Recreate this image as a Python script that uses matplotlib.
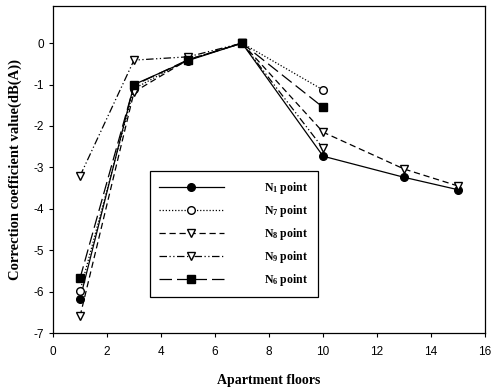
import matplotlib
matplotlib.use("Agg")
from matplotlib import pyplot as plt

# correction coefficient per measuring point, by apartment floor
floors_long = [1, 3, 5, 7, 10, 13, 15]
floors_short = [1, 3, 5, 7, 10]

n1_vals = [-6.18, -1.0, -0.42, 0.0, -2.73, -3.24, -3.54]
n7_vals = [-5.99, -1.1, -0.40, 0.0, -1.13]
n8_vals = [-6.6, -1.18, -0.40, 0.0, -2.15, -3.04, -3.45]
n9_vals = [-3.21, -0.41, -0.33, 0.0, -2.54]
n6_vals = [-5.68, -1.02, -0.40, 0.0, -1.55]

series = [
    (floors_long, n1_vals, "-", "o", "black", r"N$_1$ point"),
    (floors_short, n7_vals, (0, (1, 1.5)), "o", "white", r"N$_7$ point"),
    (floors_long, n8_vals, (0, (5, 3)), "v", "white", r"N$_8$ point"),
    (floors_short, n9_vals, (0, (6, 2, 1, 2, 1, 2)), "v", "white", r"N$_9$ point"),
    (floors_short, n6_vals, (0, (10, 4)), "s", "black", r"N$_6$ point"),
]

plt.rcParams["mathtext.fontset"] = "custom"
plt.rcParams["mathtext.rm"] = "Liberation Serif:bold"
plt.rcParams["mathtext.bf"] = "Liberation Serif:bold"
plt.rcParams["mathtext.default"] = "bf"
plt.rcParams["axes.unicode_minus"] = False

fig = plt.figure(figsize=(4.93, 3.92), dpi=100)
ax = fig.add_axes([0.1075, 0.1505, 0.8765, 0.8345])

for x, y, ls, marker, face, label in series:
    ax.plot(x, y, linestyle=ls, color="black", linewidth=0.9,
            marker=marker, markersize=5.5, markerfacecolor=face,
            markeredgecolor="black", markeredgewidth=1.0, label=label)

ax.set_xlim(0, 16)
ax.set_ylim(-7, 0.9)
ax.set_xticks(range(0, 17, 2))
ax.set_yticks(range(-7, 1))
ax.tick_params(direction="out", length=3, width=0.8, labelsize=8.5)
ax.tick_params(axis="x", pad=6)
for lbl in ax.get_xticklabels() + ax.get_yticklabels():
    lbl.set_family("Liberation Sans")

ax.set_xlabel("Apartment floors", family="Liberation Serif",
              fontweight="bold", fontsize=10, labelpad=12)
ax.set_ylabel("Correction coefficient value(dB(A))", family="Liberation Serif",
              fontweight="bold", fontsize=10.5, labelpad=8)

leg = ax.legend(loc="lower left", bbox_to_anchor=(0.2245, 0.11, 0.389, 0.36),
                mode="expand", borderaxespad=0, fancybox=False, framealpha=1,
                edgecolor="black", handlelength=5.5, handletextpad=3.4,
                labelspacing=0.6, borderpad=0.75,
                prop={"family": "Liberation Serif", "weight": "bold", "size": 8.5})
leg.get_frame().set_linewidth(0.9)

for spine in ax.spines.values():
    spine.set_linewidth(0.9)

plt.savefig("out.png", dpi=100)
